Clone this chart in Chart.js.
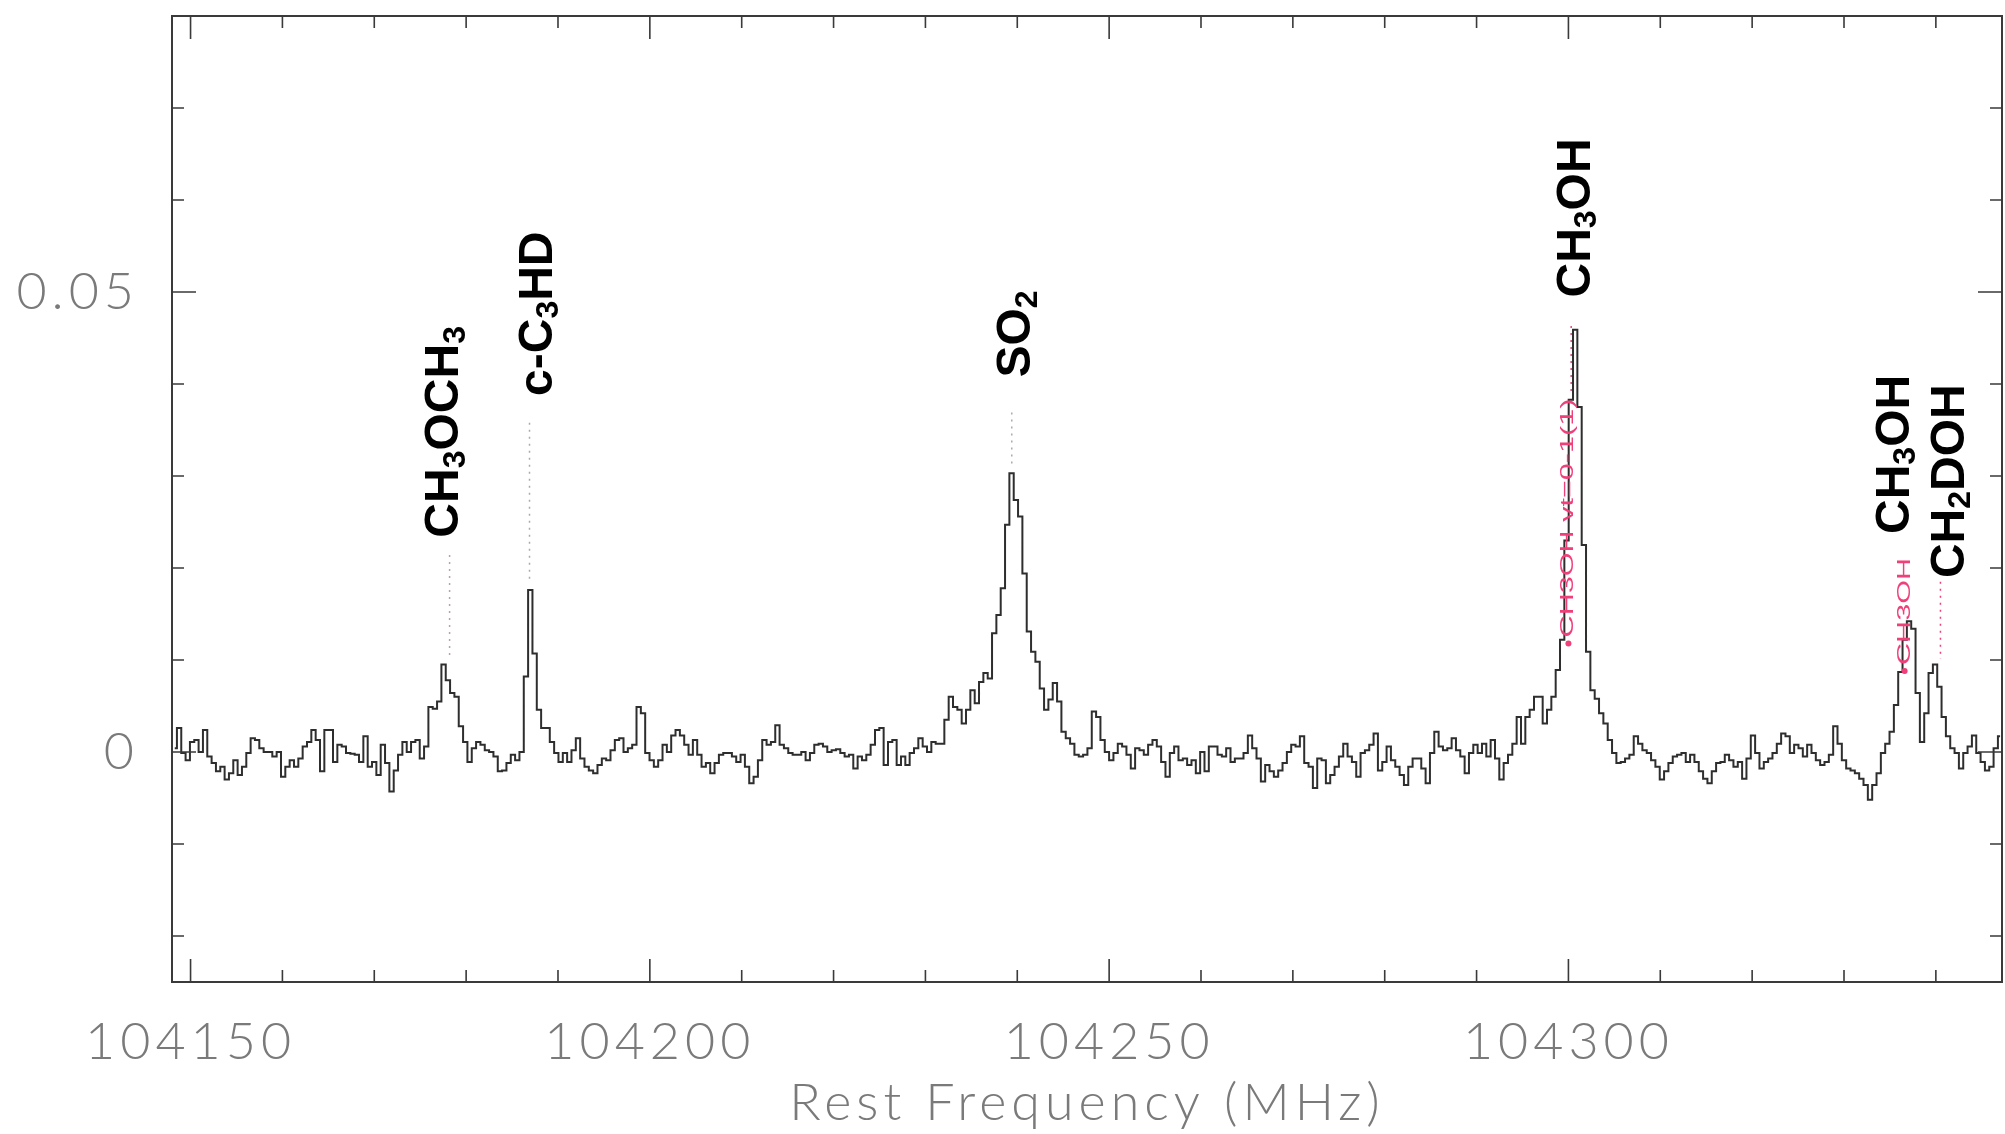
<!DOCTYPE html>
<html>
<head>
<meta charset="utf-8">
<script src="https://cdn.jsdelivr.net/npm/chart.js@4.4.1/dist/chart.umd.min.js"></script>
<style>
  html, body { margin: 0; padding: 0; background: #fff; }
  #wrap { width: 2005px; height: 1134px; }
</style>
</head>
<body>
<div id="wrap"><canvas id="spectrum"></canvas></div>
<script>
// channel grid (MHz): centre of first channel and channel width
const chanStart = 104148.28;
const chanWidth = 0.472;

// intensity per channel in mK from left to right
const spec1 = [
    0.4, 2.6, -0.1, -0.9, 1.1, 1.3, 0.0, 2.4, -0.5, -1.2,
    -2.1, -1.6, -3.0, -2.3, -0.9, -2.5, -1.6, -0.1, 1.5, 1.3,
    0.4, 0.0, 0.0, -0.5, 0.0, -2.7, -1.6, -0.9, -1.6, -0.7,
    0.6, 1.1, 2.4, 1.3, -2.1, 2.4, 2.4, -1.1, 0.8, 0.6,
    -0.1, -0.2, -0.3, -1.1, 1.7, -1.6, -1.1, -2.5, 0.8, -1.2,
    -4.3, -2.0, -0.3, 1.1, 0.0, 1.1, 1.3, -0.7, 0.6, 4.9,
    4.7, 5.5
];
const spec2 = [
    9.5, 7.8, 6.4, 6.0, 2.8, 1.1, -1.1, 0.4, 1.1, 0.8,
    0.2, 0.0, -0.5, -2.1, -2.0, -1.2, -0.3, -0.9, 0.0, 8.2,
    17.6, 10.7, 4.6, 2.6, 2.6, 1.1, -0.1, -1.1, -0.1, -1.1,
    0.2, 1.5, -0.7, -1.6, -2.0, -2.3, -1.4, -0.7, -0.9, 0.2,
    1.3, 1.5, 0.0, 0.4, 0.8, 4.9, 4.2, -0.1, -0.9, -1.6,
    -0.9, 0.8, 0.0, 1.8, 2.4, 1.8, 0.8, -0.3, 1.3, -0.3
];
const spec3 = [
    -1.6, -1.2, -2.3, -1.2, -0.3, -0.1, -0.1, -0.5, -1.1, -0.3,
    -1.6, -3.4, -2.7, -0.9, 1.3, 0.8, 1.1, 2.9, 0.8, 0.4,
    -0.1, -0.3, -0.3, 0.0, -0.9, -0.1, 0.8, 0.9, 0.6, 0.0,
    0.2, 0.3, -0.1, -0.5, -0.3, -1.8, -0.5, -0.9, -0.3, 0.8,
    2.4, 2.6, -1.4, 1.1, 1.3, -1.4, -0.5, -1.4, -0.1, 0.4,
    1.5, 0.6, 0.0, 1.1, 0.9, 0.9, 3.5, 6.0
];
const spec4 = [
    4.9, 4.6, 3.1, 4.6, 6.7, 5.3, 7.6, 8.6, 8.0, 12.9,
    14.9, 17.8, 24.7, 30.3, 27.4, 25.6, 19.4, 13.1, 10.9, 9.8,
    6.9, 4.6, 5.7, 7.5, 5.5, 2.2, 1.5, 0.9, -0.3, -0.5,
    -0.3, 0.4, 4.4, 3.8, 1.3, 0.0, -0.9, -0.1, 0.9, 0.6,
    -0.3, -1.8, 0.4, 0.2, -0.3, 0.8, 1.3, 0.6, -1.1, -2.7,
    -0.1, 0.6, -0.9, -0.7, -1.4, -0.9, -2.3, 0.0, -2.1
];
const spec5 = [
    0.6, 0.6, -0.3, -0.5, 0.4, -1.1, -0.7, -0.7, -0.1, 1.8,
    0.4, -0.7, -3.2, -1.4, -2.1, -2.7, -2.0, -1.2, 0.0, 0.8,
    0.6, 1.7, -1.2, -1.6, -3.9, -0.7, -0.9, -3.4, -2.5, -1.6,
    -0.5, 0.9, -0.5, -1.1, -2.7, -0.1, 0.2, 0.8, 2.0, -2.0,
    -1.1, 0.6, -0.9, -1.6, -2.5, -3.6, -1.6, -0.7, -0.7, -1.8,
    -3.4, -0.1, 2.2, 0.6, 0.2, 0.4, 1.5, 0.2, -0.5, -2.3
];
const spec6 = [
    -0.1, 0.8, -0.1, 0.9, -0.5, 1.3, -0.7, -3.0, -1.2, -0.3,
    0.9, 3.8, 0.9, 3.8, 4.6, 6.0, 6.0, 3.1, 4.6, 6.0,
    8.9, 12.2, 23.0, 38.3, 45.9, 37.5, 22.5, 10.9, 6.7, 5.8,
    4.2, 3.1, 1.3, -0.1, -1.2, -1.1, -0.7, -0.3, 1.7, 0.9,
    0.2, -0.1, -0.9, -1.6, -3.0, -2.1, -1.2, -0.5, -0.3, -0.1,
    -1.1, -0.3, -1.1, -2.1, -2.9, -3.4, -2.1, -1.2, -1.1
];
const spec7 = [
    -0.3, -0.9, -1.6, -1.1, -2.9, -0.7, 1.8, -0.1, -1.8, -1.1,
    -0.7, -0.1, 0.9, 2.0, 1.7, -0.1, 0.8, 0.4, -0.5, 0.8,
    -0.1, -0.9, -1.4, -1.1, -0.3, 2.8, 0.9, -0.9, -1.8, -2.0,
    -2.3, -2.9, -3.6, -5.2, -3.6, -2.3, -0.1, 0.9, 2.2, 5.1,
    8.7, 12.2, 14.2, 13.4, 6.4, 1.1, 4.2, 8.6, 9.5, 7.1,
    3.8, 1.7, 0.4, -0.1, -1.8, -0.1, 0.6, 1.8, -0.1, -1.1,
    -2.0, -1.6, 0.4, 1.7
];
const intensity = [...spec1, ...spec2, ...spec3, ...spec4, ...spec5, ...spec6, ...spec7];

// axes
const xTicks = [104150, 104160, 104170, 104180, 104190, 104200, 104210, 104220, 104230, 104240,
    104250, 104260, 104270, 104280, 104290, 104300, 104310, 104320, 104330, 104340];
const xLabels = [104150, 104200, 104250, 104300];
const yTicks = [-0.02, -0.01, 0, 0.01, 0.02, 0.03, 0.04, 0.05, 0.06, 0.07];
const yLabels = [0, 0.05];

// line identifications ("_3" = subscript 3), frequency and height of the text foot
const lineNames = ['CH_3OCH_3', 'c-C_3HD', 'SO_2', 'CH_3OH', 'CH_3OH', 'CH_2DOH'];
const lineFreqs = [104177.25, 104187.43, 104239.5, 104300.44, 104335.16, 104341.14];
const lineTextY = [0.0233, 0.0387, 0.0407, 0.0494, 0.0237, 0.0189];
// dotted marker lines: frequency, top and bottom (K), colour
const markFreqs = [104178.2, 104186.9, 104239.4, 104300.3, 104340.5];
const markTop = [0.0214, 0.0358, 0.0369, 0.0463, 0.0185];
const markBottom = [0.0100, 0.0185, 0.0309, 0.0390, 0.0101];
const markColors = ['#b9a3a8', '#aaaaaa', '#aaaaaa', '#f0407a', '#f0407a'];
// small pink fit labels
const fitNames = ['CH3OH vt=0-1(1)', 'CH3OH'];
const fitFreqs = [104300.0, 104336.6];
const fitY = [0.0118, 0.0088];

const isIn = (v, list) => list.some(l => Math.abs(l - v) < 1e-9);

function drawRich(ctx, text, size) {
    // text rotated, drawn from x=0 upward, "_d" gives a subscript digit
    let x = 0;
    const cap = size * 0.36;
    for (let i = 0; i < text.length; i++) {
        if (text[i] === '_') {
            i++;
            ctx.font = 'bold ' + Math.round(size * 0.66) + 'px "Liberation Sans", Arial, sans-serif';
            ctx.fillText(text[i], x, cap + size * 0.14);
            x += ctx.measureText(text[i]).width;
        } else {
            ctx.font = 'bold ' + size + 'px "Liberation Sans", Arial, sans-serif';
            ctx.fillText(text[i], x, cap);
            x += ctx.measureText(text[i]).width;
        }
    }
}

// wider spacing for the axis texts only
const spacingPlugin = {
    id: 'spacing',
    beforeDraw(chart) { chart.ctx.letterSpacing = '5px'; },
    beforeDatasetsDraw(chart) { chart.ctx.letterSpacing = '0px'; },
};

const framePlugin = {
    id: 'frame',
    afterDatasetsDraw(chart) {
        const { ctx, chartArea: a, scales: { x, y } } = chart;
        ctx.save();
        ctx.strokeStyle = '#3a3a3a';
        ctx.lineWidth = 2;
        ctx.strokeRect(a.left, a.top, a.right - a.left, a.bottom - a.top);
        ctx.beginPath();
        xTicks.forEach(v => {
            const px = x.getPixelForValue(v);
            const len = isIn(v, xLabels) ? 23 : 12;
            ctx.moveTo(px, a.bottom); ctx.lineTo(px, a.bottom - len);
            ctx.moveTo(px, a.top); ctx.lineTo(px, a.top + len);
        });
        yTicks.forEach(v => {
            const py = y.getPixelForValue(v);
            const len = isIn(v, yLabels) ? 24 : 12;
            ctx.moveTo(a.left, py); ctx.lineTo(a.left + len, py);
            ctx.moveTo(a.right, py); ctx.lineTo(a.right - len, py);
        });
        ctx.lineWidth = 1.6;
        ctx.stroke();

        // dotted markers
        ctx.lineWidth = 1.5;
        ctx.setLineDash([2, 5]);
        markFreqs.forEach((f, i) => {
            const px = x.getPixelForValue(f);
            ctx.strokeStyle = markColors[i];
            ctx.beginPath();
            ctx.moveTo(px, y.getPixelForValue(markTop[i]));
            ctx.lineTo(px, y.getPixelForValue(markBottom[i]));
            ctx.stroke();
        });
        ctx.setLineDash([]);

        // pink fit labels
        ctx.fillStyle = '#f0407a';
        fitNames.forEach((t, i) => {
            const px = x.getPixelForValue(fitFreqs[i]);
            const py = y.getPixelForValue(fitY[i]);
            ctx.beginPath();
            ctx.arc(px, py, 3, 0, Math.PI * 2);
            ctx.fill();
            ctx.save();
            ctx.translate(px, py - 6);
            ctx.rotate(-Math.PI / 2);
            ctx.scale(1.7, 1);
            ctx.font = '18px "Liberation Sans", Arial, sans-serif';
            ctx.textBaseline = 'middle';
            ctx.fillText(t, 0, 0);
            ctx.restore();
        });

        // line identifications
        ctx.fillStyle = '#000';
        ctx.textBaseline = 'alphabetic';
        lineNames.forEach((t, i) => {
            ctx.save();
            ctx.translate(x.getPixelForValue(lineFreqs[i]), y.getPixelForValue(lineTextY[i]));
            ctx.rotate(-Math.PI / 2);
            drawRich(ctx, t, 48);
            ctx.restore();
        });
        ctx.restore();
    }
};

const tickFont = { family: 'Lato, "Liberation Sans", sans-serif', size: 52, weight: '300' };

new Chart(document.getElementById('spectrum'), {
    type: 'line',
    data: {
        datasets: [{
            data: intensity.map((v, i) => ({ x: chanStart + i * chanWidth, y: v / 1000 })),
            borderColor: '#2e2e2e',
            borderWidth: 2,
            pointRadius: 0,
            stepped: 'middle',
            fill: false,
        }],
    },
    options: {
        responsive: true,
        maintainAspectRatio: false,
        animation: false,
        layout: { padding: { top: 16, right: 3, left: 0, bottom: 0 } },
        plugins: { legend: { display: false }, tooltip: { enabled: false } },
        scales: {
            x: {
                type: 'linear',
                min: 104147.98,
                max: 104347.2,
                grid: { display: false, drawTicks: false },
                border: { display: false },
                afterBuildTicks: s => { s.ticks = xTicks.map(v => ({ value: v })); },
                afterFit: s => { s.height = 152; s.paddingLeft = 0; s.paddingRight = 0; },
                ticks: {
                    autoSkip: false,
                    maxRotation: 0,
                    padding: 29,
                    color: '#7a7a7a',
                    font: tickFont,
                    callback: v => isIn(v, xLabels) ? String(v) : '',
                },
                title: {
                    display: true,
                    text: 'Rest Frequency (MHz)',
                    color: '#7a7a7a',
                    font: tickFont,
                    padding: { top: 0, bottom: 0 },
                },
            },
            y: {
                min: -0.025,
                max: 0.08,
                grid: { display: false, drawTicks: false },
                border: { display: false },
                afterBuildTicks: s => { s.ticks = yTicks.map(v => ({ value: v })); },
                afterFit: s => { s.width = 172; s.paddingTop = 0; s.paddingBottom = 0; },
                ticks: {
                    padding: 33,
                    color: '#7a7a7a',
                    font: tickFont,
                    callback: v => isIn(v, yLabels) ? String(v) : '',
                },
            },
        },
    },
    plugins: [spacingPlugin, framePlugin],
});
</script>
</body>
</html>
